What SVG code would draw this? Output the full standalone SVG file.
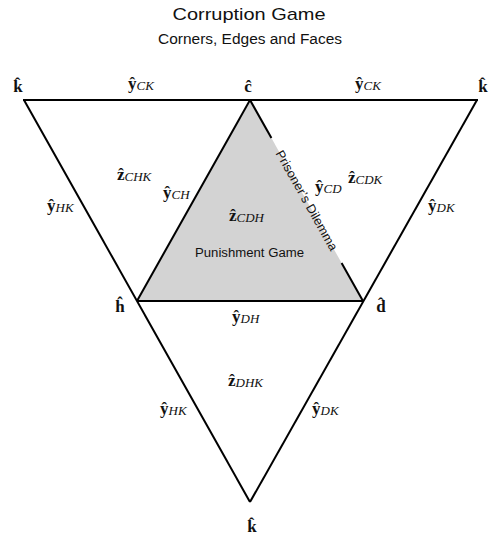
<svg xmlns="http://www.w3.org/2000/svg" width="492" height="537" viewBox="0 0 492 537">
<style>
.edge{stroke:#000;stroke-width:2;fill:none;stroke-linecap:butt}
.face{fill:#d3d3d3;stroke:none}
.m{font-family:"Liberation Serif",serif;font-size:17px;font-weight:bold;fill:#111}
.s{font-family:"Liberation Serif",serif;font-size:13px;font-style:italic;font-weight:normal}
.c{text-anchor:middle}
.t{font-family:"Liberation Sans",Arial,sans-serif;fill:#111}
</style>
<rect width="492" height="537" fill="#fff"/>
<g id="title">
<text class="t" x="249" y="20" font-size="17" text-anchor="middle" textLength="153" lengthAdjust="spacingAndGlyphs">Corruption Game</text>
<text class="t" x="250" y="44" font-size="14" text-anchor="middle" textLength="184" lengthAdjust="spacingAndGlyphs">Corners, Edges and Faces</text>
</g>
<g id="face-CDH">
<polygon class="face" points="250,100 137,301 363,301"/>
<text class="t" x="249.5" y="257" font-size="12.5" text-anchor="middle" textLength="109" lengthAdjust="spacingAndGlyphs">Punishment Game</text>
</g>
<g id="connectors">
<line class="edge" x1="23" y1="100" x2="478" y2="100"/>
<line class="edge" x1="24" y1="100" x2="250" y2="502"/>
<line class="edge" x1="477" y1="100" x2="250" y2="502"/>
<line class="edge" x1="137" y1="301" x2="363" y2="301"/>
<line class="edge" x1="250" y1="100" x2="137" y2="301"/>
<line class="edge" x1="250" y1="100" x2="271.4" y2="138"/>
<line class="edge" x1="341.6" y1="263" x2="363" y2="301"/>
<text class="t" font-size="12.5" text-anchor="middle" dominant-baseline="central" textLength="113" lengthAdjust="spacingAndGlyphs" transform="translate(306.5,200.5) rotate(60.65)">Prisoner’s Dilemma</text>
</g>
<g id="k-top-left"><text class="m c" x="18" y="92">k&#x302;</text></g>
<g id="y-CK-left"><text class="m" x="128" y="89">y&#x302;<tspan class="s" dy="1">CK</tspan></text></g>
<g id="c-top"><text class="m c" x="248" y="92">c&#x302;</text></g>
<g id="y-CK-right"><text class="m" x="355" y="89">y&#x302;<tspan class="s" dy="1">CK</tspan></text></g>
<g id="k-top-right"><text class="m c" x="483" y="92">k&#x302;</text></g>
<g id="y-HK-left"><text class="m" x="47" y="211">y&#x302;<tspan class="s" dy="1">HK</tspan></text></g>
<g id="z-CHK"><text class="m" x="117" y="180">z&#x302;<tspan class="s" dy="1">CHK</tspan></text></g>
<g id="y-CH"><text class="m" x="163" y="198">y&#x302;<tspan class="s" dy="1">CH</tspan></text></g>
<g id="z-CDH"><text class="m" x="229" y="221">z&#x302;<tspan class="s" dy="1">CDH</tspan></text></g>
<g id="y-CD"><text class="m" x="315" y="192">y&#x302;<tspan class="s" dy="1">CD</tspan></text></g>
<g id="z-CDK"><text class="m" x="348" y="183">z&#x302;<tspan class="s" dy="1">CDK</tspan></text></g>
<g id="y-DK-right"><text class="m" x="428" y="211">y&#x302;<tspan class="s" dy="1">DK</tspan></text></g>
<g id="h"><text class="m c" x="120" y="312">h&#x302;</text></g>
<g id="d"><text class="m c" x="381" y="312">d&#x302;</text></g>
<g id="y-DH"><text class="m" x="232" y="322">y&#x302;<tspan class="s" dy="1">DH</tspan></text></g>
<g id="z-DHK"><text class="m" x="228" y="386">z&#x302;<tspan class="s" dy="1">DHK</tspan></text></g>
<g id="y-HK-bottom"><text class="m" x="160" y="414">y&#x302;<tspan class="s" dy="1">HK</tspan></text></g>
<g id="y-DK-bottom"><text class="m" x="312" y="414">y&#x302;<tspan class="s" dy="1">DK</tspan></text></g>
<g id="k-bottom"><text class="m c" x="252" y="532">k&#x302;</text></g>
</svg>
